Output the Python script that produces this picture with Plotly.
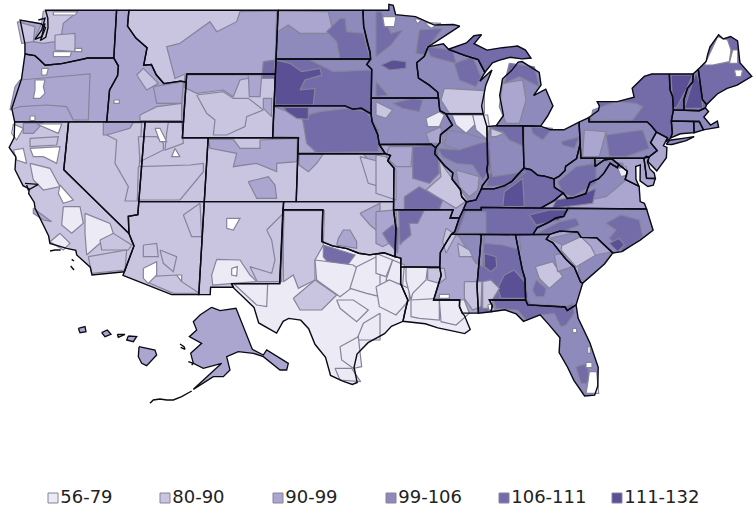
import plotly.graph_objects as go

CLASS_LABELS = ["56-79", "80-90", "90-99", "99-106", "106-111", "111-132"]
CLASS_COLORS = ["#ECEAF5", "#C9C5E0", "#ABA6CF", "#8F8ABC", "#736CA9", "#5B5096", "#FFFFFF"]
GAP = 6

# shared borders, lon/lat
MISS_A = [(-92,46.7),(-92.3,46.1),(-92.9,45.7),(-92.75,44.75),(-91.9,44.3),(-91.25,43.85),(-91.2,43.5)]
MISS_B = [(-91.2,43.5),(-91.1,42.7),(-90.64,42.5)]
MISS_C = [(-90.64,42.5),(-90.15,41.8),(-91.05,41.2),(-91.1,40.7),(-91.42,40.38)]
MISS_D = [(-91.42,40.38),(-91.5,40),(-90.75,39.25),(-90.15,38.8),(-90.2,38.4),(-89.6,37.75),(-89.5,37.3),(-89.15,36.98)]
MISS_E = [(-89.15,36.98),(-89.4,36.5),(-89.7,36)]
MISS_F = [(-89.7,36),(-90.05,35.15),(-90.3,35)]
MISS_G = [(-90.3,35),(-90.6,34.6),(-91.1,33.9),(-91.15,33)]
MISS_H = [(-91.15,33),(-91.05,32.5),(-91.6,31)]
OHIO_A = [(-80.52,40.64),(-80.7,40.1),(-80.85,39.7),(-81.7,39.2),(-81.75,38.95),(-82.2,38.6),(-82.6,38.42)]
OHIO_B = [(-82.6,38.42),(-83.3,38.6),(-83.8,38.65),(-84.3,39),(-84.82,39.1)]
OHIO_C = [(-84.82,39.1),(-85.3,38.7),(-85.75,38.27),(-86.3,38),(-87.1,37.8),(-88.03,37.8)]
OHIO_D = [(-88.03,37.8),(-88.45,37.1),(-89.15,36.98)]
WABASH = [(-87.53,41.7),(-87.53,39.35),(-87.6,39),(-87.5,38.5),(-87.95,38),(-88.03,37.8)]
TN_NC = [(-81.68,36.59),(-82,36.1),(-82.6,36),(-83.1,35.75),(-84,35.4),(-84.32,34.99)]
VA_WV = [(-81.97,37.54),(-81.68,37.2),(-81.2,37.25),(-80.3,37.5),(-79.95,38.2),(-79.3,38.42),(-78.87,38.77),(-78.35,39.4),(-77.83,39.13),(-77.72,39.32)]
OK_TX = [(-94.48,33.64),(-95.3,33.88),(-96.4,33.75),(-97.2,33.85),(-98.1,34.13),(-99.2,34.3),(-100,34.56)]
ID_MT = [(-116.05,49),(-116.05,48),(-115.3,47.25),(-114.35,46.65),(-114.5,45.55),(-113.9,45.6),(-113.45,44.95),(-112.8,44.4),(-111.5,44.55),(-111.05,44.5)]
OR_ID = [(-117.03,42),(-117.03,44),(-116.9,44.2),(-116.5,44.9),(-116.5,45.5),(-116.92,46)]
WA_OR = [(-124,46.25),(-123.2,46.15),(-122.8,45.9),(-122.3,45.55),(-121,45.65),(-119.3,45.93),(-119,46),(-116.92,46)]
NV_CA = [(-120,42),(-120,39),(-114.6,35.05)]
RED_SD = [(-96.45,42.5),(-97.2,42.85),(-97.9,42.8),(-98.5,43),(-104.05,43)]
MO_NE = [(-95.77,40.58),(-95.3,40)]
KS_MO = [(-95.3,40),(-94.9,39.9),(-95.1,39.55),(-94.62,39.1),(-94.62,37)]
IA_NE = [(-96.45,42.5),(-96.35,42),(-95.9,41.2),(-95.77,40.58)]
ND_MN = [(-97.23,49),(-97.15,48),(-96.85,47),(-96.6,46.35),(-96.55,45.94)]
SD_MN = [(-96.55,45.94),(-96.85,45.6),(-96.45,45.3),(-96.45,43.5)]
PA_NY = [(-75.35,42),(-75.05,41.75),(-74.7,41.36)]
PA_NJ = [(-74.7,41.36),(-75.2,40.7),(-74.75,40.2),(-75.4,39.8)]
GA_SC = [(-83.1,35),(-83.35,34.7),(-82.9,34.5),(-82,33.5),(-81.4,33),(-81,32.1),(-80.85,32.03)]
NC_SC = [(-83.1,35),(-82.35,35.2),(-81.05,35.15),(-80.8,34.82),(-79.67,34.8),(-78.55,33.87)]
NH_VT = [(-71.5,45.01),(-71.6,44.5),(-72.05,44.1),(-72.4,43.4),(-72.46,42.73)]

# (state, base class, outline)
STATES = [
 ("WA",2,[(-124,46.25)]+WA_OR[1:]+[(-117.04,49),(-122.75,49),(-122.5,48.5),(-122.4,47.9),(-122.5,47.3),(-122.9,47.1),(-122.6,47.9),(-123,48.15),(-124.7,48.38),(-124.1,46.9)]),
 ("OR",2,[(-124.55,42.84),(-124.2,42),(-120,42)]+OR_ID+WA_OR[::-1]+[(-124.05,44.7)]),
 ("CA",1,[(-124.2,42)]+NV_CA+[(-114.15,34.3),(-114.5,33.4),(-114.72,32.72),(-117.12,32.53),(-117.3,33),(-118.4,33.75),(-118.5,34.03),(-119.2,34.15),(-120.5,34.45),(-120.65,34.9),(-121.9,36.6),(-122,36.95),(-122.5,37.5),(-122.5,37.8),(-123,38),(-123.75,39),(-123.8,39.8),(-124.4,40.4),(-124.1,41)]),
 ("NV",1,[(-120,42),(-114.04,42),(-114.04,36.2),(-114.75,36.1),(-114.6,35.05),(-120,39)]),
 ("ID",2,[(-117.04,49)]+ID_MT+[(-111.05,42)]+OR_ID),
 ("MT",1,ID_MT+[(-111.05,45),(-104.05,45),(-104.05,49)]),
 ("WY",1,[(-111.05,45),(-104.05,45),(-104.05,41),(-111.05,41)]),
 ("UT",1,[(-114.04,42),(-111.05,42),(-111.05,41),(-109.05,41),(-109.05,37),(-114.04,37)]),
 ("AZ",1,[(-114.04,37),(-109.05,37),(-109.05,31.33),(-111.07,31.33),(-114.8,32.5),(-114.72,32.72),(-114.5,33.4),(-114.15,34.3),(-114.6,35.05),(-114.75,36.1),(-114.04,36.2)]),
 ("CO",1,[(-109.05,41),(-102.05,41),(-102.05,37),(-109.05,37)]),
 ("NM",1,[(-109.05,37),(-103,37),(-103.06,32),(-106.65,32),(-106.5,31.78),(-108.2,31.78),(-108.2,31.33),(-109.05,31.33)]),
 ("ND",3,[(-104.05,49)]+ND_MN+[(-104.05,45.94)]),
 ("SD",4,[(-104.05,45.94)]+SD_MN+RED_SD),
 ("NE",3,[(-104.05,43)]+RED_SD[::-1][1:]+IA_NE[1:]+MO_NE[1:]+[(-102.05,40),(-102.05,41),(-104.05,41)]),
 ("KS",1,[(-102.05,40)]+KS_MO+[(-102.04,37)]),
 ("OK",1,[(-103,37),(-94.62,37),(-94.62,36.5),(-94.43,35.4)]+OK_TX+[(-100,36.5),(-103.04,36.5)]),
 ("TX",0,[(-106.65,32),(-103.06,32),(-103.04,36.5),(-100,36.5)]+OK_TX[::-1]+[(-94.04,33.55),(-94.04,32),(-93.5,31),(-93.7,30.3),(-93.85,29.7),(-94.7,29.4),(-95.2,28.95),(-96.4,28.4),(-97.2,27.7),(-97.4,26.9),(-97.15,25.97),(-97.5,25.85),(-98.2,26.05),(-99.1,26.4),(-99.5,27.5),(-100.3,28.3),(-100.8,29.25),(-101.4,29.77),(-102.3,29.88),(-102.7,29.7),(-103.15,28.98),(-104.5,29.6),(-104.9,30.55),(-106.5,31.75)]),
 ("MN",3,[(-97.23,49),(-95.15,49),(-95.15,49.37),(-94.8,49.3),(-94.6,48.72),(-93,48.6),(-91.5,48.07),(-90,48.1),(-89.5,48)]+MISS_A+[(-96.45,43.5)]+SD_MN[::-1][1:]+ND_MN[::-1][1:]),
 ("IA",3,[(-96.45,43.5)]+MISS_B[::1]+MISS_C[1:]+[(-91.75,40.6),(-95.77,40.58)]+IA_NE[::-1][1:]),
 ("MO",2,MO_NE[:1]+[(-91.75,40.6)]+MISS_D+MISS_E[1:]+[(-90.37,36),(-90.15,36.5),(-94.62,36.5)]+KS_MO[::-1]),
 ("AR",2,[(-94.62,36.5),(-90.15,36.5),(-90.37,36)]+MISS_F+MISS_G[1:]+[(-94.04,33.02),(-94.04,33.55),(-94.48,33.64),(-94.43,35.4)]),
 ("LA",0,[(-94.04,33.02),(-91.15,33)]+MISS_H[1:]+[(-89.73,31),(-89.75,30.6),(-89.55,30.2),(-89.4,30.05),(-89,29.2),(-89.4,28.95),(-90.2,29.1),(-91.3,29.3),(-92.2,29.55),(-93.85,29.7),(-93.7,30.3),(-93.5,31),(-94.04,32)]),
 ("WI",3,[(-92,46.7),(-90.8,46.9),(-90.4,46.55),(-89.1,46.15),(-88.1,45.9),(-87.6,45.1),(-88,44.55),(-87.05,45.25),(-87.55,44.3),(-87.9,43),(-87.8,42.5),(-90.64,42.5)]+MISS_B[::-1][1:]+MISS_A[::-1][1:]),
 ("IL",3,[(-87.8,42.5)]+WABASH+OHIO_D[1:]+MISS_D[::-1][1:]+MISS_C[::-1][1:]),
 ("IN",3,[(-87.53,41.7),(-86.82,41.76),(-84.8,41.76)]+OHIO_C+WABASH[::-1][1:]),
 ("OH",3,[(-84.8,41.76),(-83.45,41.73),(-82.7,41.5),(-81.7,41.5),(-80.52,41.98)]+OHIO_A+OHIO_B[1:]),
 ("MI",3,[(-86.82,41.76),(-86.25,42.4),(-86.5,43.65),(-86.25,44.7),(-85.55,45.2),(-85,45.75),(-84.7,45.78),(-83.4,45.1),(-83.3,44.3),(-83.9,43.65),(-82.95,44.05),(-82.45,43),(-82.9,42.35),(-83.15,42.05),(-83.45,41.73),(-84.8,41.76)]),
 ("MIU",4,[(-90.4,46.55),(-89,46.95),(-88.4,47.4),(-87.8,47.47),(-88.4,46.9),(-87.4,46.5),(-86.2,46.65),(-85,46.75),(-84.4,46.5),(-84,46),(-84.7,45.95),(-85.6,46.05),(-86.5,45.85),(-87,45.7),(-87.6,45.1),(-88.1,45.9),(-89.1,46.15)]),
 ("KY",4,OHIO_B+OHIO_C[1:]+OHIO_D[1:]+[(-89.4,36.5),(-88.07,36.5),(-88.07,36.65),(-83.68,36.6),(-82.7,37.05),(-81.97,37.54),(-82.6,37.9)]),
 ("TN",4,[(-89.4,36.5),(-88.07,36.5),(-88.07,36.65),(-83.68,36.6)]+TN_NC+MISS_F[::-1]),
 ("MS",2,[(-90.3,35),(-88.2,35),(-88.1,34.9),(-88.47,31.9),(-88.4,30.2),(-89.55,30.2),(-89.75,30.6),(-89.73,31)]+MISS_H[::-1]+MISS_G[::-1][1:]),
 ("AL",4,[(-88.2,35),(-85.6,34.98),(-85.18,32.87),(-85,32.3),(-85,31),(-87.6,31),(-87.4,30.65),(-87.5,30.28),(-88.4,30.2),(-88.47,31.9),(-88.1,34.9)]),
 ("GA",3,[(-85.6,34.98)]+GA_SC+[(-81.4,30.7),(-82.05,30.36),(-82.2,30.57),(-84.86,30.7),(-85,31),(-85,32.3),(-85.18,32.87)]),
 ("FL",3,[(-87.5,30.28),(-87.4,30.65),(-87.6,31),(-85,31),(-84.86,30.7),(-82.2,30.57),(-82.05,30.36),(-81.4,30.7),(-81.3,29.9),(-80.55,28.4),(-80.05,26.9),(-80.15,25.75),(-80.4,25.2),(-81.1,25.15),(-81.8,26.1),(-82.2,26.9),(-82.75,27.8),(-82.65,28.7),(-83.4,29.5),(-84,30.1),(-85.2,29.7),(-85.7,30.15),(-86.5,30.4)]),
 ("SC",2,NC_SC+[(-79.2,33.2),(-79.9,32.7)]+GA_SC[::-1][:-1]),
 ("NC",3,TN_NC[::-1]+[(-75.87,36.55),(-75.5,35.25),(-76.5,34.65),(-77.9,33.95)]+NC_SC[::-1]),
 ("VA",2,[(-81.97,37.54),(-82.7,37.05),(-83.68,36.6),(-81.68,36.59),(-75.87,36.55),(-76,36.9),(-76.3,37),(-76.3,37.95),(-76.95,38.25),(-77.3,38.4),(-77.1,38.9)]+VA_WV[::-1]),
 ("WV",3,OHIO_A+[(-82.6,37.9)]+VA_WV+[(-78.2,39.68),(-78.8,39.6),(-79.49,39.2),(-79.48,39.72),(-80.52,39.72)]),
 ("MD",2,[(-79.48,39.72),(-75.79,39.72),(-75.7,38.46),(-75.05,38.45),(-75.24,38.03),(-75.65,37.95),(-76.2,38.3),(-76.1,39.3),(-76.45,39.2),(-76.5,38.4),(-76.3,37.95),(-76.95,38.25),(-77.3,38.4),(-77.1,38.9),(-77.72,39.32),(-78.2,39.68),(-78.8,39.6),(-79.49,39.2)]),
 ("DE",2,[(-75.79,39.72),(-75.6,39.84),(-75.4,39.8),(-75.55,39.5),(-75.4,39.05),(-75.1,38.78),(-75.05,38.45),(-75.7,38.46)]),
 ("PA",3,[(-80.52,41.98),(-79.76,42.27),(-79.76,42)]+PA_NY+PA_NJ[1:]+[(-75.79,39.72),(-80.52,39.72)]),
 ("NJ",2,[(-74.7,41.36),(-73.9,41),(-74.25,40.5),(-74,40.4),(-74.1,39.75),(-74.9,38.93),(-75.5,39.5),(-75.4,39.8),(-74.75,40.2),(-75.2,40.7)]),
 ("NY",4,[(-79.76,42.27),(-79,42.7),(-78.9,43),(-79.05,43.27),(-77.5,43.27),(-76.5,43.5),(-76.2,43.55),(-76.3,44.1),(-75.3,44.85),(-74.7,45),(-73.35,45),(-73.4,44),(-73.25,43.6),(-73.27,42.75),(-73.5,42.05),(-73.5,41.3),(-73.65,41),(-74,40.75),(-73.9,41),(-74.7,41.36),(-75.05,41.75),(-75.35,42),(-79.76,42)]),
 ("LI",3,[(-74.03,40.6),(-73.75,40.85),(-72.6,40.98),(-71.87,41.07),(-72.5,40.82),(-73.6,40.58)]),
 ("VT",4,[(-73.35,45)]+NH_VT+[(-73.27,42.75),(-73.25,43.6),(-73.4,44)]),
 ("NH",4,NH_VT[:1]+[(-71.08,45.3),(-70.98,43.4),(-70.7,43.08),(-70.82,42.87),(-71.3,42.7)]+NH_VT[::-1]),
 ("ME",4,[(-71.08,45.3),(-70.4,45.8),(-70.25,46.2),(-70,46.7),(-69.23,47.46),(-68.9,47.2),(-68.3,47.35),(-67.8,47.07),(-67.8,45.7),(-67.45,45.3),(-67,44.85),(-68.2,44.3),(-69,44.1),(-69.8,43.75),(-70.7,43.08),(-70.98,43.4)]),
 ("MA",3,[(-73.5,42.05),(-73.27,42.75),(-71.3,42.7),(-70.82,42.87),(-70.6,42.65),(-71,42.3),(-70.55,41.8),(-70,42.05),(-69.95,41.67),(-70.65,41.55),(-71.12,41.5),(-71.38,42.02),(-71.8,42.02)]),
 ("CT",3,[(-73.5,42.05),(-71.8,42.02),(-71.85,41.32),(-72.9,41.25),(-73.65,41),(-73.5,41.3)]),
 ("RI",3,[(-71.8,42.02),(-71.38,42.02),(-71.12,41.5),(-71.85,41.32)]),
]

# Map sheets: hospital-region patches are read on four sheets of the map, in thirds of a map unit
SHEETS = {"NW": (0, 0), "NE": (376, 0), "SW": (0, 200), "SE": (376, 200)}

REGIONS = [
 # north-west
 (1,"NW",[(130,33),(235,33),(190,70),(185,100),(165,125),(130,130),(100,125),(125,70)]),
 (1,"NW",[(165,105),(225,100),(225,155),(165,150)]),
 (1,"NW",[(52,65),(105,80),(100,125),(65,130)]),
 (GAP,"NW",[(160,155),(215,155),(210,170),(160,170)]),
 (GAP,"NW",[(225,145),(245,145),(245,155),(225,155)]),
 (GAP,"NW",[(160,36),(232,36),(225,45),(160,45)]),
 (2,"NW",[(60,240),(270,222),(265,360),(220,360),(200,320),(140,315),(60,320),(30,330),(45,260)]),
 (GAP,"NW",[(105,240),(135,240),(130,260),(135,280),(120,295),(100,295),(105,270)]),
 (GAP,"NW",[(125,205),(145,205),(140,225),(125,225)]),
 (GAP,"NW",[(90,348),(105,348),(105,362),(90,362)]),
 (1,"NW",[(410,225),(430,205),(475,250),(440,270)]),
 (2,"NW",[(460,260),(550,245),(545,310),(470,310)]),
 (1,"NW",[(420,345),(470,320),(545,310),(545,362),(420,362)]),
 (GAP,"NW",[(342,300),(358,300),(358,310),(342,310)]),
 (2,"NW",[(540,130),(630,65),(650,95),(710,65),(720,35),(830,33),(826,178),(820,222),(555,222),(525,235),(500,140)]),
 (2,"NW",[(555,225),(745,225),(745,235),(720,240),(700,290),(670,270),(590,280),(552,262)]),
 (2,"NW",[(745,225),(785,225),(780,290),(748,290)]),
 (2,"NW",[(790,295),(815,295),(815,350),(790,325)]),
 (1,"NW",[(590,285),(670,275),(700,295),(745,295),(790,330),(740,350),(735,380),(680,405),(640,405),(645,360),(620,340)]),
 (4,"NW",[(790,185),(825,180),(823,235),(785,235)]),
 (2,"NW",[(832,33),(985,35),(1000,100),(900,100),(865,75),(832,95)]),
 (4,"NW",[(1020,55),(1035,55),(1040,95),(1090,100),(1110,175),(1020,175),(1010,125),(980,95)]),
 (3,"NW",[(930,180),(1108,180),(1112,210),(1000,215),(970,200)]),
 (5,"NW",[(825,180),(870,190),(905,215),(960,205),(965,225),(915,240),(900,270),(945,265),(940,315),(825,315)]),
 (2,"NW",[(822,320),(905,350),(945,458),(895,458),(895,412),(820,410)]),
 (4,"NW",[(905,350),(960,335),(1040,325),(1100,335),(1135,390),(1135,455),(950,458),(920,430),(910,370)]),
 (5,"NW",[(850,322),(925,322),(925,358),(890,355),(860,335)]),
 (2,"NW",[(310,367),(400,367),(390,385),(330,405),(310,405)]),
 (1,"NW",[(400,368),(425,368),(412,603),(375,603),(385,560),(345,490),(350,420),(320,405),(390,385)]),
 (1,"NW",[(415,410),(470,410),(490,430),(490,450),(420,485)]),
 (1,"NW",[(415,500),(570,495),(610,490),(610,515),(540,600),(412,600)]),
 (1,"NW",[(505,367),(545,367),(550,430),(495,450),(500,400)]),
 (GAP,"NW",[(465,385),(480,385),(500,425),(480,425)]),
 (GAP,"NW",[(525,445),(540,470),(515,470)]),
 (2,"NW",[(625,418),(700,418),(720,445),(780,445),(780,420),(892,415),(890,485),(830,490),(830,515),(770,490),(700,500),(710,460),(630,445)]),
 (2,"NW",[(745,545),(805,530),(825,555),(830,595),(770,595)]),
 (2,"NW",[(897,462),(970,462),(950,490),(925,515),(897,495)]),
 (2,"NW",[(1090,462),(1140,462),(1140,485),(1110,485)]),
 (1,"NW",[(1080,470),(1140,485),(1140,560),(1105,550)]),
 # California
 (2,"NW",[(70,370),(130,368),(100,400),(70,400)]),
 (GAP,"NW",[(40,372),(70,385),(50,420),(35,400)]),
 (GAP,"NW",[(110,372),(185,372),(175,400),(140,385)]),
 (GAP,"NW",[(90,445),(180,440),(170,490),(130,470),(100,470)]),
 (GAP,"NW",[(40,450),(70,445),(80,490),(50,480)]),
 (0,"NW",[(90,490),(150,505),(180,560),(130,570),(100,540)]),
 (GAP,"NW",[(180,555),(220,600),(190,610),(175,580)]),
 (1,"NW",[(90,415),(175,410),(170,435),(90,440)]),
 (0,"SW",[(190,20),(240,20),(250,70),(215,100),(185,75)]),
 (0,"SW",[(255,40),(330,70),(340,100),(300,130),(260,165),(255,100)]),
 (2,"SW",[(100,25),(155,65),(130,60),(100,40)]),
 (0,"SW",[(180,100),(210,130),(190,150),(150,125)]),
 (1,"SW",[(300,120),(340,100),(395,135),(385,150),(305,150)]),
 (1,"SW",[(265,170),(380,150),(375,210),(275,220)]),
 # south-west
 (1,"SW",[(550,45),(600,10),(605,110),(575,110)]),
 (1,"SW",[(430,135),(470,130),(475,170),(430,170)]),
 (1,"SW",[(480,150),(530,170),(520,215),(490,190)]),
 (1,"SW",[(445,230),(530,225),(545,245),(598,280),(520,280),(450,250)]),
 (GAP,"SW",[(430,205),(470,185),(470,225),(445,250),(430,235)]),
 (GAP,"SW",[(530,225),(545,225),(545,245)]),
 (0,"SW",[(650,178),(720,180),(750,225),(770,245),(700,250),(638,255),(635,225)]),
 (GAP,"SW",[(680,55),(720,55),(700,90),(680,85)]),
 (GAP,"SW",[(695,205),(712,200),(710,228),(695,225)]),
 (1,"SW",[(800,90),(850,40),(845,245),(772,245),(750,200),(815,220),(825,180),(815,120)]),
 (1,"SW",[(852,32),(973,32),(970,135),(945,180),(945,240),(895,265),(880,225),(850,245),(850,120)]),
 (1,"SW",[(880,295),(945,240),(1010,285),(965,330),(900,330)]),
 (4,"SW",[(970,135),(1065,165),(1035,205),(990,195),(970,170)]),
 (0,"SW",[(702,252),(803,252),(800,320),(770,315)]),
 (0,"SW",[(945,180),(1060,195),(1090,220),(1060,260),(1020,290),(950,240)]),
 (0,"SW",[(1070,200),(1140,165),(1140,290),(1100,280),(1050,265)]),
 (0,"SW",[(1010,300),(1060,300),(1105,330),(1070,365),(1020,325)]),
 (0,"SW",[(1090,370),(1140,340),(1140,420),(1070,420)]),
 (0,"SW",[(1020,440),(1075,410),(1085,500),(1060,505),(1025,480)]),
 (0,"SW",[(1005,505),(1055,505),(1082,545),(1020,540)]),
 (2,"SW",[(1080,40),(1140,10),(1140,100),(1110,75)]),
 (2,"SW",[(1015,115),(1030,90),(1050,90),(1070,125),(1070,145),(1010,135)]),
 (0,"SE",[(0,160),(50,180),(30,230),(0,220)]),
 (0,"SE",[(50,180),(85,195),(80,255),(30,240)]),
 (0,"SE",[(0,260),(40,240),(100,265),(100,300),(60,345),(10,320)]),
 (2,"SE",[(0,35),(60,30),(65,150),(40,130),(20,140),(0,130)]),
 (4,"SE",[(20,100),(50,75),(68,85),(65,160),(35,125)]),
 # Arkansas to Georgia
 (4,"SE",[(68,30),(145,30),(125,70),(100,70),(105,105),(80,125),(72,135)]),
 (1,"SE",[(210,85),(240,105),(210,160),(200,125)]),
 (1,"SE",[(155,205),(205,205),(210,235),(190,250),(155,240)]),
 (0,"SE",[(90,200),(155,200),(150,240),(110,280),(105,300),(90,240)]),
 (0,"SE",[(105,300),(190,295),(190,360),(130,355),(105,350)]),
 (0,"SE",[(190,300),(265,300),(280,340),(240,375),(195,365)]),
 (3,"SE",[(240,105),(325,105),(320,200),(300,190),(280,160),(250,110)]),
 (1,"SE",[(245,130),(280,150),(290,170),(250,170)]),
 (1,"SE",[(265,245),(318,245),(315,320),(290,330),(265,295)]),
 (GAP,"SE",[(190,283),(220,283),(220,295),(190,295)]),
 (3,"SE",[(325,105),(430,105),(435,150),(380,135),(325,130)]),
 (5,"SE",[(325,160),(360,170),(362,200),(345,215),(325,200)]),
 (5,"SE",[(385,225),(415,210),(450,250),(455,295),(375,295),(365,265)]),
 (1,"SE",[(320,245),(345,240),(370,265),(350,298),(350,325),(320,325)]),
 (GAP,"SE",[(335,315),(350,310),(355,330),(340,332)]),
 (1,"SE",[(478,200),(530,185),(560,230),(520,265),(490,235)]),
 (4,"SE",[(470,270),(480,240),(510,265),(505,290),(480,290)]),
 (2,"SE",[(535,165),(560,160),(590,200),(545,215)]),
 (4,"SE",[(352,298),(455,298),(465,312),(575,318),(590,310),(595,340),(570,375),(555,380),(535,340),(490,345),(450,360),(425,330),(360,325)]),
 (4,"SE",[(600,500),(635,490),(640,550),(615,550)]),
 (GAP,"SE",[(640,515),(662,515),(668,580),(630,580),(635,550)]),
 (GAP,"SE",[(630,487),(648,487),(648,503),(630,503)]),
 (GAP,"SE",[(590,385),(602,385),(602,398),(590,398)]),
 (GAP,"SE",[(635,440),(643,440),(643,460),(635,460)]),
 (1,"SE",[(560,120),(610,105),(645,140),(660,170),(600,200),(555,150)]),
 (3,"SE",[(610,195),(660,165),(712,155),(670,205),(625,245),(605,230)]),
 (3,"SE",[(520,115),(610,95),(615,110),(560,135)]),
 (4,"SE",[(690,70),(735,45),(790,60),(800,110),(740,155),(700,115),(720,90)]),
 (5,"SE",[(700,130),(730,115),(745,135),(725,155)]),
 (4,"SE",[(485,100),(550,65),(600,55),(610,75),(560,95),(520,100)]),
 (3,"SE",[(245,100),(330,100),(330,35),(270,35)]),
 (5,"SE",[(460,45),(520,30),(580,30),(550,60),(480,75)]),
 # upper midwest
 (4,"NE",[(0,35),(15,35),(45,100),(80,90),(45,135),(0,170)]),
 (4,"NE",[(130,90),(200,85),(165,130),(150,165),(120,160)]),
 (GAP,"NE",[(20,50),(60,50),(55,80),(25,80)]),
 (GAP,"NE",[(115,55),(135,60),(125,72)]),
 (GAP,"NE",[(145,68),(195,70),(165,85)]),
 (5,"NE",[(15,195),(50,180),(90,185),(90,205),(40,210)]),
 (4,"NE",[(0,245),(35,285),(0,290)]),
 (4,"NE",[(150,140),(230,150),(240,190),(165,170)]),
 (4,"NE",[(235,190),(290,170),(315,230),(300,260),(250,240)]),
 (1,"NE",[(205,265),(325,272),(325,340),(220,340),(195,300)]),
 (4,"NE",[(50,310),(110,295),(140,300),(130,335),(80,325)]),
 (1,"NE",[(0,305),(50,330),(30,355),(0,345)]),
 (0,"NE",[(150,355),(190,335),(205,345),(190,380),(155,380)]),
 (2,"NE",[(150,400),(195,380),(200,430),(160,430)]),
 (0,"NE",[(228,345),(290,345),(300,370),(270,400),(240,375)]),
 (0,"NE",[(290,345),(335,345),(340,380),(335,420),(300,390)]),
 (3,"NE",[(215,390),(270,400),(335,420),(320,450),(250,450),(205,435)]),
 (4,"NE",[(185,445),(250,450),(310,430),(340,425),(345,505),(320,540),(290,495),(240,490),(200,470)]),
 (2,"NE",[(240,510),(310,530),(305,570),(280,590),(250,560)]),
 (4,"NE",[(345,380),(445,378),(445,440),(400,420),(380,395),(345,395)]),
 (4,"NE",[(330,560),(345,510),(350,530),(410,520),(450,515),(400,555)]),
 (1,"NE",[(345,385),(385,400),(360,410),(345,410)]),
 (4,"NE",[(465,380),(530,385),(500,420),(470,400)]),
 (4,"NE",[(555,425),(610,410),(595,445),(560,435)]),
 (2,"NE",[(380,250),(440,240),(450,300),(430,370),(390,370),(370,320)]),
 (4,"NE",[(400,190),(475,200),(490,260),(430,230),(385,250)]),
 (3,"NE",[(650,330),(720,305),(780,310),(800,320),(770,360),(645,362)]),
 (2,"NE",[(625,390),(690,395),(670,470),(620,470)]),
 (4,"NE",[(690,405),(800,390),(820,445),(750,470),(700,470)]),
 (5,"NE",[(885,225),(950,225),(930,270),(900,325),(890,320)]),
 (5,"NE",[(925,325),(960,215),(975,260),(980,325)]),
 (GAP,"NE",[(985,195),(1025,110),(1055,120),(1065,150),(1060,185),(1010,195)]),
 (GAP,"NE",[(1070,150),(1085,150),(1085,190),(1060,190)]),
 (GAP,"NE",[(1075,210),(1100,210),(1095,230),(1080,230)]),
 (3,"NE",[(650,480),(740,490),(750,540),(690,590),(640,600),(560,620),(620,580)]),
 (5,"NE",[(540,600),(600,590),(660,565),(650,610),(530,625)]),
 (0,"NE",[(725,505),(750,500),(755,525),(735,530)]),
 (4,"NE",[(545,545),(600,500),(660,490),(660,550),(590,590),(560,580)]),
 (2,"NE",[(40,440),(110,440),(105,500),(60,500),(30,470)]),
 (4,"NE",[(110,440),(185,435),(190,520),(160,550),(110,535)]),
 (4,"NE",[(85,590),(130,560),(200,600),(190,628),(85,628)]),
 (1,"NE",[(190,480),(210,510),(275,600),(240,625),(150,570),(195,530)]),
 (1,"NE",[(0,465),(30,470),(60,510),(60,600),(0,580)]),
 (5,"NE",[(385,575),(440,535),(445,620),(380,620)]),
]

# Alaska and Hawaii insets, same sheet system
INSETS = [
 (2,"SW",[(635,322),(660,332),(708,325),(757,448),(790,465),(800,450),(865,490),(860,510),(840,510),(790,470),(760,460),(715,455),(680,470),(690,510),(670,530),(640,530),(580,568),(640,515),(665,490),(610,505),(580,490),(572,460),(605,430),(568,410),(590,390),(580,365),(600,345)]),
 (2,"SW",[(417,440),(465,450),(470,465),(440,497),(425,490),(415,470)]),
 (2,"SW",[(385,408),(410,410),(400,425),(380,420)]),
 (2,"SW",[(305,398),(322,390),(333,403),(315,410)]),
 (2,"SW",[(235,385),(255,380),(258,395),(240,398)]),
 (2,"SW",[(352,403),(375,403),(355,412)]),
]
ISLAND_LINES = [
 ("SW",[(450,610),(460,600),(480,597),(500,600),(520,600),(545,590),(575,573)]),
 ("SW",[(540,432),(552,440),(555,448),(542,442)]),
 ("SW",[(565,485),(580,490),(575,495)]),
 ("SW",[(150,153),(165,150),(182,150)]),
 ("SW",[(212,198),(222,210)]),
 ("SW",[(215,178),(222,183)]),
 ("NW",[(115,60),(135,55),(125,90),(105,118),(125,110),(135,70)]),
 ("NW",[(75,550),(115,553),(85,570),(80,555)]),
]


def project(lon, lat):
    dl = lon + 92
    if dl < 0:
        x = 428 + 12.95 * dl - 0.057 * dl * (lat - 40)
    else:
        x = 428 + 13.3 * dl - 0.072 * dl * (lat - 40)
    if lat >= 37:
        y = 74 + (45 - lat) * 15.95
    else:
        y = 201.6 + (37 - lat) * 16.4
    return x, y


def state_xy(pts):
    xy = [project(a, b) for a, b in pts]
    xy.append(xy[0])
    return [p[0] for p in xy], [p[1] for p in xy]


def sheet_xy(sheet, pts, close=True):
    ox, oy = SHEETS[sheet]
    xs = [ox + a / 3 for a, _ in pts]
    ys = [oy + b / 3 for _, b in pts]
    if close:
        xs.append(xs[0])
        ys.append(ys[0])
    return xs, ys


fig = go.Figure()


def area(xs, ys, cls, line, width):
    fig.add_trace(go.Scatter(x=xs, y=ys, mode="lines", fill="toself",
                             fillcolor=CLASS_COLORS[cls],
                             line=dict(color=line, width=width),
                             hoverinfo="skip", showlegend=False))


for name, cls, pts in STATES:
    xs, ys = state_xy(pts)
    area(xs, ys, cls, CLASS_COLORS[cls], 0.5)
for cls, sheet, pts in REGIONS:
    xs, ys = sheet_xy(sheet, pts)
    area(xs, ys, cls, "#85849A", 1.2)
for name, cls, pts in STATES:
    xs, ys = state_xy(pts)
    fig.add_trace(go.Scatter(x=xs, y=ys, mode="lines",
                             line=dict(color="#0A0A14", width=1.4),
                             hoverinfo="skip", showlegend=False))
for cls, sheet, pts in INSETS:
    xs, ys = sheet_xy(sheet, pts)
    area(xs, ys, cls, "#0A0A14", 1.3)
for sheet, pts in ISLAND_LINES:
    xs, ys = sheet_xy(sheet, pts, close=False)
    fig.add_trace(go.Scatter(x=xs, y=ys, mode="lines",
                             line=dict(color="#0A0A14", width=1.4),
                             hoverinfo="skip", showlegend=False))

# legend row
LEGEND_X = [53, 165, 278, 391, 504, 617]
fig.add_trace(go.Scatter(
    x=LEGEND_X, y=[498] * 6, mode="markers+text",
    marker=dict(symbol="square", size=10, color=CLASS_COLORS[:6],
                line=dict(color="#85849A", width=1)),
    text=CLASS_LABELS, textposition="middle right",
    textfont=dict(family="DejaVu Sans", size=18, color="#222222"),
    hoverinfo="skip", showlegend=False, cliponaxis=False))

fig.update_xaxes(range=[0, 756], visible=False, fixedrange=True)
fig.update_yaxes(range=[511, 0], visible=False, fixedrange=True)
fig.update_layout(width=756, height=511, margin=dict(l=0, r=0, t=0, b=0),
                  paper_bgcolor="white", plot_bgcolor="white")
fig.write_html("out.html", config={"displayModeBar": False},
               post_script="document.body.style.margin='0';")
